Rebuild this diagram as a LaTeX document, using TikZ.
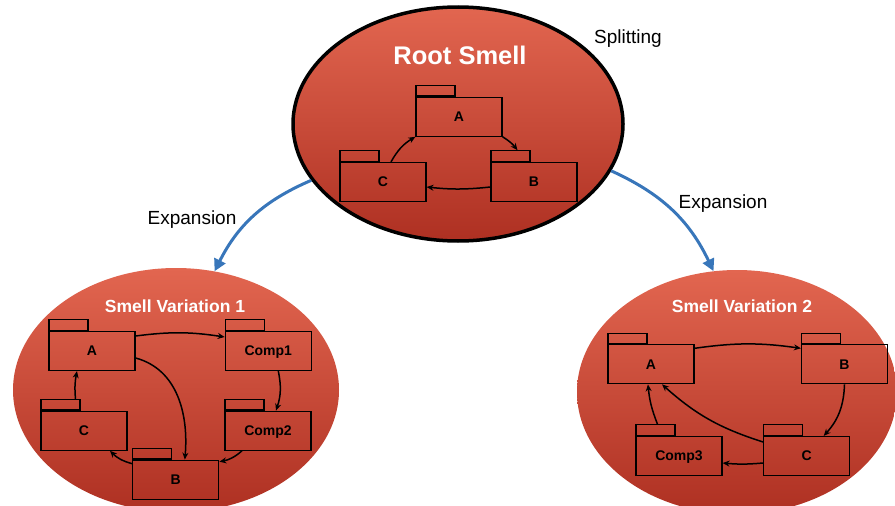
\documentclass[tikz,border=0pt]{standalone}
\usepackage{fontspec}
\setmainfont{Liberation Sans}
\usetikzlibrary{shapes.geometric,arrows.meta}
\definecolor{smtop}{RGB}{226,102,80}
\definecolor{smbot}{RGB}{174,48,34}
\definecolor{expblue}{RGB}{56,118,186}
\newcommand\pkgbox[3]{\node[pkg] (#1) at (#2) {#3}; \node[pkgtab] (#1t) at (#1.north west) {};}
\begin{document}
\begin{tikzpicture}[x=1pt,y=-1pt,
  smell/.style={ellipse, inner sep=0pt, top color=smtop, bottom color=smbot},
  pkg/.style={draw, line width=1.2pt, minimum width=86pt, minimum height=39pt, inner sep=0pt,
    text depth=0pt, font=\bfseries\fontsize{14}{16}\selectfont},
  pkgtab/.style={draw, line width=1.2pt, minimum width=39pt, minimum height=10.5pt, inner sep=0pt, anchor=south west},
  rel/.style={-{Stealth[length=7pt,width=6pt]}, line width=1.5pt},
  expand/.style={-{Triangle[length=12pt,width=12pt]}, line width=3pt, draw=expblue},
  caption/.style={font=\fontsize{19}{22}\selectfont, anchor=base},
  title/.style={text=white, anchor=base}
]
\useasboundingbox (0,0) rectangle (895,506);
\clip (0,0) rectangle (895,506);

% ellipses
\node[smell, draw=black, line width=3.5pt, minimum width=330pt, minimum height=234pt] (root) at (458,124) {};
\node[smell, minimum width=326pt, minimum height=244pt] (v1) at (176,390) {};
\node[smell, minimum width=320pt, minimum height=244pt] (v2) at (737,392) {};

% titles
\node[title, font=\bfseries\fontsize{25.5}{28}\selectfont] (rt) at (460,64) {Root Smell};
\node[title, font=\bfseries\fontsize{17.5}{20}\selectfont] (t1) at (175,312.7) {Smell Variation 1};
\node[title, font=\bfseries\fontsize{17.5}{20}\selectfont] (t2) at (742,312.7) {Smell Variation 2};

% top packages
\pkgbox{tA}{459,116.7}{A}
\pkgbox{tC}{383,182}{C}
\pkgbox{tB}{534,182}{B}
\draw[rel] ([xshift=8pt]tC.north) to[bend left=15] (tA.south west);
\draw[rel] (tA.south east) to[bend left=10] ([xshift=7pt]tBt.north);
\draw[rel] ([yshift=-5pt]tB.west) to[bend left=6] ([yshift=-5pt]tC.east);

% left packages
\pkgbox{lA}{92,351}{A}
\pkgbox{l1}{268.3,351}{Comp1}
\pkgbox{lC}{84,430.7}{C}
\pkgbox{l2}{268,430.7}{Comp2}
\pkgbox{lB}{175.8,479.7}{B}
\draw[rel] ([yshift=15pt]lA.east) to[bend left=8] ([yshift=14pt]l1.west);
\draw[rel] ([xshift=10pt]l1.south) to[bend left=15] ([xshift=8pt]l2.north);
\draw[rel] ([yshift=-7pt]lA.east) to[out=-15,in=85] ([xshift=9pt]lB.north);
\draw[rel] ([xshift=-26pt]l2.south) to[bend left=15] ([yshift=18pt]lB.east);
\draw[rel] ([yshift=16pt]lB.west) to[bend left=15] ([xshift=26pt]lC.south);
\draw[rel] ([xshift=15pt]lCt.north) to[bend left=8] ([xshift=-15pt]lA.south);

% right packages
\pkgbox{rA}{651,364.3}{A}
\pkgbox{rB}{844.5,364.3}{B}
\pkgbox{r3}{679,456}{Comp3}
\pkgbox{rC}{806.7,456}{C}
\draw[rel] ([yshift=16pt]rA.east) to[bend left=8] ([yshift=16pt]rB.west);
\draw[rel] (rB.south) to[bend left=20] ([xshift=17pt]rC.north);
\draw[rel] ([yshift=14pt]rC.west) to[bend left=12] ([xshift=11pt]rA.south);
\draw[rel] ([yshift=-7pt]rC.west) to[bend left=5] ([yshift=-7pt]r3.east);
\draw[rel] ([xshift=2pt]r3t.north) to[bend left=8] ([xshift=-3pt]rA.south);

% expansion arrows
\draw[expand] (root.201.5) to[bend right=20] (v1.72.7);
\draw[expand] (root.-17.5) to[bend left=20] (v2.101.8);

% captions
\node[caption] (split) at (628,43) {Splitting};
\node[caption] (ex1) at (192,224) {Expansion};
\node[caption] (ex2) at (723,208) {Expansion};
\end{tikzpicture}
\end{document}
